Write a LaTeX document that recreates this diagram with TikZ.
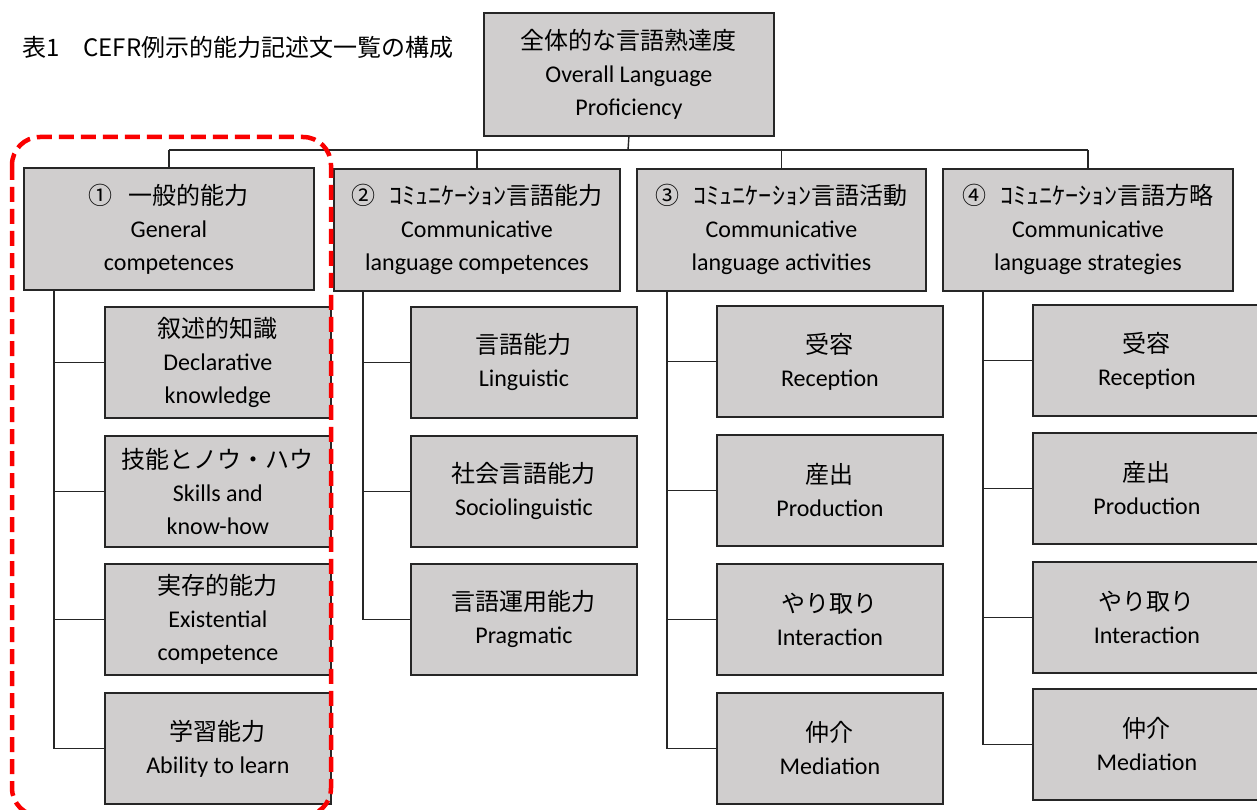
\documentclass[tikz,border=0pt]{standalone}
\usepackage{fontspec}
\setmainfont{Carlito}
\newfontfamily\jp{Noto Sans CJK JP}
\newfontfamily\jpw[FakeStretch=1.09]{Noto Sans CJK JP}
\usetikzlibrary{calc}
\definecolor{boxgray}{RGB}{208,206,206}
\definecolor{dashred}{RGB}{250,0,0}
\newcommand{\kana}[1]{{\jpw #1}}
\tikzset{
  bx/.style={draw=black!85, line width=1.8pt, fill=boxgray, inner sep=0pt, align=center,
             anchor=north west, font=\fontsize{24}{33}\selectfont},
  topbox/.style={bx, minimum width=290pt, minimum height=123pt},
  catbox/.style={bx, minimum width=290pt, minimum height=122pt},
  subbox/.style={bx, minimum width=226pt, minimum height=111pt},
  wsubbox/.style={bx, minimum width=228pt, minimum height=111pt},
  link/.style={draw=black!85, line width=1.4pt},
}
\begin{document}
\begin{tikzpicture}[x=1pt, y=-1pt]
\useasboundingbox (0,0) rectangle (1257,810);
\fill[white] (0,0) rectangle (1257,810);

% title
\node[anchor=west, inner sep=0pt, font=\jp\fontsize{24}{28}\selectfont] (title) at (22,47) {表1　CEFR例示的能力記述文一覧の構成};

% top
\node[topbox] (top) at (483,12) {{\jp 全体的な言語熟達度}\\Overall Language\\Proficiency};

% categories
\node[catbox] (b1) at (23,167) {{\jp ①\hspace{16pt}一般的能力}\\General\\competences};
\node[catbox, minimum width=286pt] (b2) at (333,168) {{\jp ②\hspace{14pt}\kana{ｺﾐｭﾆｹｰｼｮﾝ}言語能力}\\Communicative\\language competences};
\node[catbox, minimum width=289pt] (b3) at (636,168) {{\jp ③\hspace{14pt}\kana{ｺﾐｭﾆｹｰｼｮﾝ}言語活動}\\Communicative\\language activities};
\node[catbox] (b4) at (942,168) {{\jp ④\hspace{14pt}\kana{ｺﾐｭﾆｹｰｼｮﾝ}言語方略}\\Communicative\\language strategies};

% bus
\coordinate (bus) at (628,150);
\draw[link] (top.south) -- (bus);
\draw[link] (b1.north |- bus) -- (b4.north |- bus);
\draw[link] (b1.north) -- (b1.north |- bus);
\draw[link] (b2.north) -- (b2.north |- bus);
\draw[link] (b3.north) -- (b3.north |- bus);
\draw[link] (b4.north) -- (b4.north |- bus);

% column 1
\node[subbox] (c11) at (104,306) {{\jp 叙述的知識}\\Declarative\\knowledge};
\node[subbox] (c12) at (104,435) {{\jp 技能とノウ・ハウ}\\Skills and\\know-how};
\node[subbox] (c13) at (104,563) {{\jp 実存的能力}\\Existential\\competence};
\node[subbox] (c14) at (104,692) {{\jp 学習能力}\\Ability to learn};
\coordinate (t1) at ($(b1.south west)+(31,0)$);
\foreach \c in {c11,c12,c13,c14} \draw[link] (t1) |- (\c.west);

% column 2
\node[subbox] (c21) at (410,306) {{\jp 言語能力}\\Linguistic};
\node[subbox] (c22) at (410,435) {{\jp 社会言語能力}\\Sociolinguistic};
\node[subbox] (c23) at (410,563) {{\jp 言語運用能力}\\Pragmatic};
\coordinate (t2) at ($(b2.south west)+(30,0)$);
\foreach \c in {c21,c22,c23} \draw[link] (t2) |- (\c.west);

% column 3
\node[subbox] (c31) at (716,305) {{\jp 受容}\\Reception};
\node[subbox] (c32) at (716,434) {{\jp 産出}\\Production};
\node[subbox] (c33) at (716,563) {{\jp やり取り}\\Interaction};
\node[subbox] (c34) at (716,692) {{\jp 仲介}\\Mediation};
\coordinate (t3) at ($(b3.south west)+(31,0)$);
\foreach \c in {c31,c32,c33,c34} \draw[link] (t3) |- (\c.west);

% column 4 (right edge at the page edge)
\node[wsubbox] (c41) at (1032,304) {{\jp 受容}\\Reception};
\node[wsubbox] (c42) at (1032,432) {{\jp 産出}\\Production};
\node[wsubbox] (c43) at (1032,561) {{\jp やり取り}\\Interaction};
\node[wsubbox] (c44) at (1032,688) {{\jp 仲介}\\Mediation};
\coordinate (t4) at ($(b4.south west)+(41,0)$);
\foreach \c in {c41,c42,c43,c44} \draw[link] (t4) |- (\c.west);

% red dashed highlight
\draw[dashred, line width=4.5pt, dash pattern=on 15pt off 7pt, rounded corners=28pt]
  (12,137) rectangle (331,816);
\end{tikzpicture}
\end{document}
